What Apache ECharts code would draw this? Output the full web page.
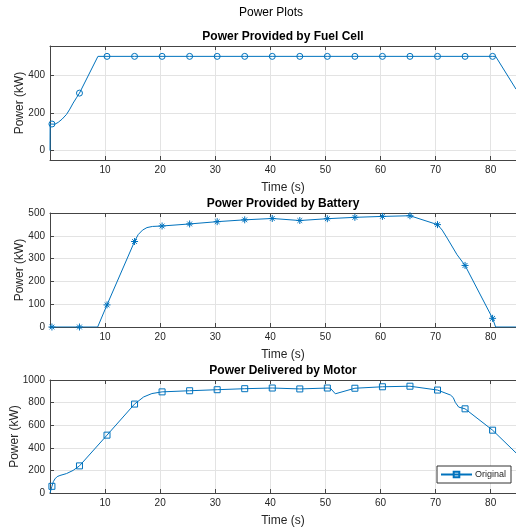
<!DOCTYPE html>
<html>
<head>
<meta charset="utf-8">
<script src="https://cdn.jsdelivr.net/npm/echarts@6/dist/echarts.min.js"></script>
<style>
  html, body { margin: 0; padding: 0; background: #fff; }
  #chart { width: 516px; height: 529px; }
</style>
</head>
<body>
<div id="chart"></div>
<script>
// Sample times (s) where the markers are drawn
const markTime = [0.35, 5.35, 10.35, 15.35, 20.35, 25.35, 30.35, 35.35, 40.35,
                  45.35, 50.35, 55.35, 60.35, 65.35, 70.35, 75.35, 80.35];

// Fuel cell power (kW)
const fuelMark = [141, 305, 500, 500, 500, 500, 500, 500, 500,
                  500, 500, 500, 500, 500, 500, 500, 500];
const fuelCurveTime  = [0, 0.02, 0.9, 1.5, 2.2, 3.0, 3.6, 4.2, 4.8, 8.7, 80.9, 84.6];
const fuelCurvePower = [0, 141, 140, 150, 167, 192, 220, 252, 280, 500, 500, 326];

// Battery power (kW)
const battMark = [0, 0, 97, 375, 443, 452, 462, 470, 476,
                  467, 475, 481, 485, 488, 449, 270, 38];
const battCurveTime  = [0, 8.65, 16.0, 16.8, 17.6, 18.6, 71.2, 72.1, 73.9, 80.9, 84.6];
const battCurvePower = [0, 0, 405, 425, 436, 441, 425, 390, 317, 0, 0];

// Motor power (kW)
const motorMark = [59, 240, 512, 787, 895, 905, 914, 923, 929,
                   921, 929, 927, 940, 945, 911, 745, 556];
const motorCurveTime  = [0, 0.6, 0.9, 1.3, 1.8, 3.0, 4.2, 17.0, 18.5, 50.9, 51.8, 72.7, 73.2, 73.6, 74.2, 84.6];
const motorCurvePower = [0, 100, 125, 145, 155, 172, 200, 850, 880, 927, 878, 867, 845, 800, 760, 355];

// Axis settings
const timeMax = 84.6;
const timeStep = 10;

const BLUE = '#0072BD';
const INK = '#262626';
const FONT = 'Liberation Sans, Arial, Helvetica, sans-serif';

// Merge the curve knots with the marker samples; only marker samples get a symbol
function buildData(curveT, curveV, mT, mV) {
  const pts = [];
  curveT.forEach((t, i) => pts.push({ t, v: curveV[i], mark: false, k: i }));
  mT.forEach((t, i) => pts.push({ t, v: mV[i], mark: true, k: 1000 + i }));
  pts.sort((a, b) => (a.t - b.t) || (a.k - b.k));
  return pts.map(p => p.mark ? { value: [p.t, p.v] } : { value: [p.t, p.v], symbol: 'none' });
}

const grids = [
  { left: 50, right: 0, top: 46, height: 114 },
  { left: 50, right: 0, top: 213, height: 114 },
  { left: 50, right: 0, top: 380, height: 113 }
].map(g => Object.assign(g, { containLabel: false, outerBoundsMode: 'none' }));

const yRanges = [
  { min: -50, max: 555, step: 200 },
  { min: 0, max: 500, step: 100 },
  { min: 0, max: 1000, step: 200 }
];

const yNameGap = [24, 24, 29];

const xAxes = [];
const yAxes = [];
grids.forEach((g, i) => {
  xAxes.push({
    type: 'value', gridIndex: i, min: 0, max: timeMax, interval: timeStep,
    name: 'Time (s)', nameLocation: 'middle', nameGap: 22, nameMoveOverlap: false,
    nameTextStyle: { color: INK, fontSize: 12, fontFamily: FONT },
    axisLine: { show: true, onZero: false, lineStyle: { color: '#444', width: 1 } },
    axisTick: { show: true, inside: true, length: 4, lineStyle: { color: '#444' } },
    axisLabel: { color: INK, fontSize: 10, fontFamily: FONT, margin: 5,
                 showMinLabel: false, showMaxLabel: false },
    splitLine: { show: true, lineStyle: { color: '#e3e3e3', width: 1 } }
  });
  xAxes.push({
    type: 'value', gridIndex: i, position: 'top', min: 0, max: timeMax, interval: timeStep,
    axisLine: { show: true, onZero: false, lineStyle: { color: '#444', width: 1 } },
    axisTick: { show: true, inside: true, length: 4, lineStyle: { color: '#444' } },
    axisLabel: { show: false },
    splitLine: { show: false }
  });
  const r = yRanges[i];
  yAxes.push({
    type: 'value', gridIndex: i, min: r.min, max: r.max,
    minInterval: r.step, maxInterval: r.step, splitNumber: 3,
    name: 'Power (kW)', nameLocation: 'middle', nameGap: yNameGap[i], nameMoveOverlap: false,
    nameTextStyle: { color: INK, fontSize: 12, fontFamily: FONT },
    axisLine: { show: true, onZero: false, lineStyle: { color: '#444', width: 1 } },
    axisTick: { show: true, inside: true, length: 4, lineStyle: { color: '#444' } },
    axisLabel: { color: INK, fontSize: 10, fontFamily: FONT, margin: 5,
                 formatter: v => String(v),
                 showMinLabel: r.min === 0, showMaxLabel: r.max % r.step === 0 || r.step === 100 },
    splitLine: { show: true, lineStyle: { color: '#e3e3e3', width: 1 } }
  });
});

const asterisk = 'path://M5,0L5,10M0,5L10,5M1.6,1.6L8.4,8.4M1.6,8.4L8.4,1.6';

function lineSeries(name, idx, data, symbol, size) {
  return {
    type: 'line', name, xAxisIndex: idx * 2, yAxisIndex: idx, data,
    symbol, symbolSize: size, showSymbol: true, clip: true,
    lineStyle: { color: BLUE, width: 1 },
    itemStyle: { color: 'rgba(0,0,0,0)', borderColor: BLUE, borderWidth: 1 },
    emphasis: { disabled: true },
    z: 3
  };
}

const titleStyle = { color: '#000', fontSize: 12, fontWeight: 'bold', fontFamily: FONT };

const option = {
  animation: false,
  backgroundColor: '#fff',
  title: [
    { text: 'Power Plots', left: 271, top: 7, textAlign: 'center', padding: 0,
      textStyle: { color: '#000', fontSize: 12, fontWeight: 'normal', fontFamily: FONT } },
    { text: 'Power Provided by Fuel Cell', left: 283, top: 31, textAlign: 'center', padding: 0, textStyle: titleStyle },
    { text: 'Power Provided by Battery', left: 283, top: 198, textAlign: 'center', padding: 0, textStyle: titleStyle },
    { text: 'Power Delivered by Motor', left: 283, top: 365, textAlign: 'center', padding: 0, textStyle: titleStyle }
  ],
  legend: {
    data: ['Original'], left: 437, top: 466, orient: 'vertical',
    padding: [4, 5, 4, 3], itemWidth: 31, itemHeight: 7, itemGap: 0,
    backgroundColor: '#fff', borderColor: '#333', borderWidth: 1, borderRadius: 0,
    textStyle: { color: INK, fontSize: 9, fontFamily: FONT, padding: [0, 0, 0, -2] },
    selectedMode: false
  },
  grid: grids,
  xAxis: xAxes,
  yAxis: yAxes,
  series: [
    lineSeries('Fuel Cell', 0, buildData(fuelCurveTime, fuelCurvePower, markTime, fuelMark), 'circle', 6),
    lineSeries('Battery', 1, buildData(battCurveTime, battCurvePower, markTime, battMark), asterisk, 7),
    lineSeries('Original', 2, buildData(motorCurveTime, motorCurvePower, markTime, motorMark), 'rect', 6)
  ]
};

const chart = echarts.init(document.getElementById('chart'), null, { renderer: 'canvas' });
chart.setOption(option);
</script>
</body>
</html>
